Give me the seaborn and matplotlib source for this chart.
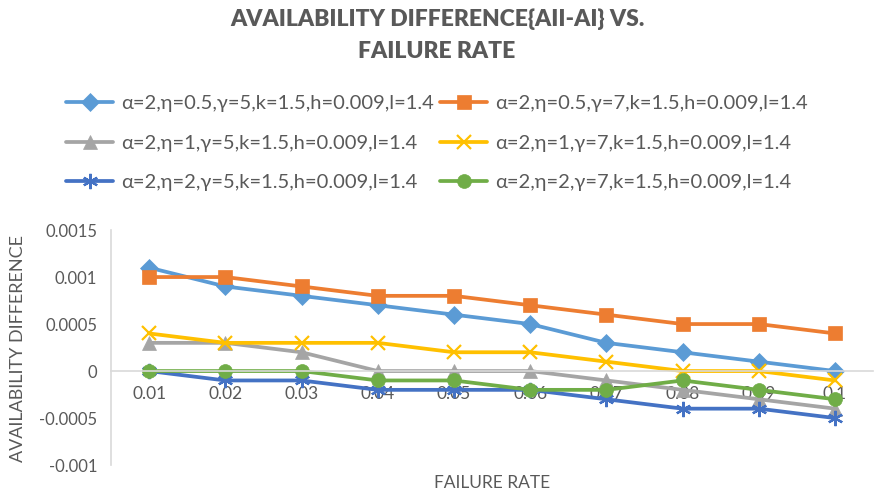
import matplotlib
matplotlib.use("Agg")
import matplotlib.pyplot as plt
import seaborn as sns
import pandas as pd

failure_rate = ["0.01", "0.02", "0.03", "0.04", "0.05", "0.06", "0.07", "0.08", "0.09", "0.1"]
series_labels = [
    "α=2,η=0.5,γ=5,k=1.5,h=0.009,l=1.4",
    "α=2,η=0.5,γ=7,k=1.5,h=0.009,l=1.4",
    "α=2,η=1,γ=5,k=1.5,h=0.009,l=1.4",
    "α=2,η=1,γ=7,k=1.5,h=0.009,l=1.4",
    "α=2,η=2,γ=5,k=1.5,h=0.009,l=1.4",
    "α=2,η=2,γ=7,k=1.5,h=0.009,l=1.4",
]
s1 = [0.0011, 0.0009, 0.0008, 0.0007, 0.0006, 0.0005, 0.0003, 0.0002, 0.0001, 0.0]
s2 = [0.001, 0.001, 0.0009, 0.0008, 0.0008, 0.0007, 0.0006, 0.0005, 0.0005, 0.0004]
s3 = [0.0003, 0.0003, 0.0002, 0.0, 0.0, 0.0, -0.0001, -0.0002, -0.0003, -0.0004]
s4 = [0.0004, 0.0003, 0.0003, 0.0003, 0.0002, 0.0002, 0.0001, 0.0, 0.0, -0.0001]
s5 = [0.0, -0.0001, -0.0001, -0.0002, -0.0002, -0.0002, -0.0003, -0.0004, -0.0004, -0.0005]
s6 = [0.0, 0.0, 0.0, -0.0001, -0.0001, -0.0002, -0.0002, -0.0001, -0.0002, -0.0003]
series_values = [s1, s2, s3, s4, s5, s6]

colors = ["#5B9BD5", "#ED7D31", "#A5A5A5", "#FFC000", "#4472C4", "#70AD47"]
markers = ["D", "s", "^", "x", (6, 2, 0), "o"]
msizes = [9, 10, 10, 10, 11, 10]

sns.set_style("white")
plt.rcParams["font.family"] = ["Lato", "DejaVu Sans"]
TXT = "#595959"

fig = plt.figure(figsize=(8.74, 4.99), dpi=100)
ax = fig.add_axes([0.127, 0.068, 0.872, 0.471])

rows = []
for lab, vals in zip(series_labels, series_values):
    for x, v in zip(failure_rate, vals):
        rows.append({"rate": x, "value": v, "series": lab})
df = pd.DataFrame(rows)

handles = []
for lab, c, m, ms in zip(series_labels, colors, markers, msizes):
    sub = df[df["series"] == lab]
    sns.lineplot(data=sub, x="rate", y="value", ax=ax, color=c, marker=m,
                 markersize=ms, linewidth=2.7, markeredgecolor=c,
                 markeredgewidth=1.6 if m in ("x", (6, 2, 0)) else 0.5,
                 label=lab, legend=False, sort=False)
    handles.append(ax.lines[-1])

ax.set_xlim(-0.5, 9.5)
ax.set_ylim(-0.001, 0.0015)
ax.set_yticks([-0.001, -0.0005, 0, 0.0005, 0.001, 0.0015])
ax.set_yticklabels(["-0.001", "-0.0005", "0", "0.0005", "0.001", "0.0015"])
ax.spines["bottom"].set_position(("data", 0))
for sp in ["top", "right"]:
    ax.spines[sp].set_visible(False)
for sp in ["left", "bottom"]:
    ax.spines[sp].set_color("#D9D9D9")
    ax.spines[sp].set_linewidth(1.2)
ax.tick_params(axis="y", length=0, pad=10, labelsize=12, labelcolor=TXT)
ax.tick_params(axis="x", length=0, pad=11, labelsize=12.5, labelcolor=TXT)
ax.set_xlabel("")
ax.set_ylabel("")
ax.grid(False)

fig.text(0.563, 0.033, "FAILURE RATE", ha="center", va="center", fontsize=12.5, color=TXT)
fig.text(0.021, 0.302, "AVAILABILITY DIFFERENCE", ha="center", va="center",
         rotation=90, fontsize=13, color=TXT)
fig.text(0.5, 0.962, "AVAILABILITY DIFFERENCE{AII-AI} VS.", ha="center", va="center",
         fontsize=16.5, fontweight="heavy", color=TXT)
fig.text(0.5, 0.897, "FAILURE RATE", ha="center", va="center",
         fontsize=16.5, fontweight="heavy", color=TXT)

order = [0, 2, 4, 1, 3, 5]
leg = fig.legend([handles[i] for i in order], [series_labels[i] for i in order],
                 ncol=2, loc="center", bbox_to_anchor=(0.5, 0.713), frameon=False,
                 fontsize=14.5, handlelength=2.34, handletextpad=0.4, columnspacing=0.3,
                 labelspacing=1.12, labelcolor=TXT)

fig.savefig("out.png", dpi=100)
